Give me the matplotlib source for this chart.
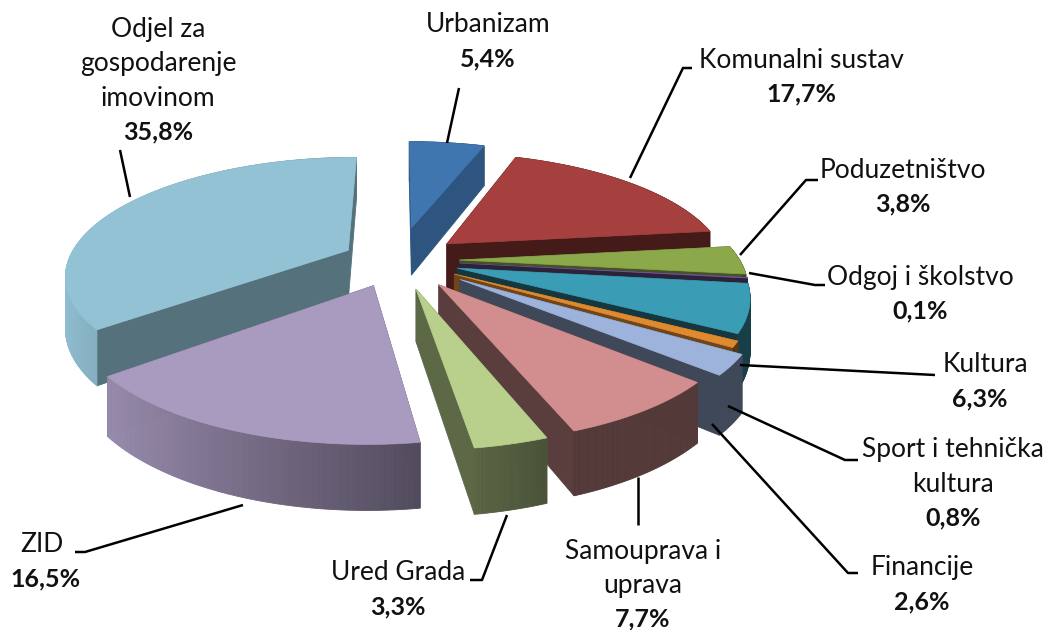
import numpy as np
import matplotlib
matplotlib.use("Agg")
import matplotlib.pyplot as plt
from matplotlib.patches import Polygon
from matplotlib.colors import to_rgb

categories = ["Urbanizam", "Komunalni sustav", "Poduzetništvo", "Odgoj i školstvo", "Kultura",
              "Sport i tehnička kultura", "Financije", "Samouprava i uprava", "Ured Grada", "ZID",
              "Odjel za gospodarenje imovinom"]
values = [5.4, 17.7, 3.8, 0.1, 6.3, 0.8, 2.6, 7.7, 3.3, 16.5, 35.8]
value_labels = ["5,4%", "17,7%", "3,8%", "0,1%", "6,3%", "0,8%", "2,6%", "7,7%", "3,3%", "16,5%", "35,8%"]

colors = ["#3F76B0", "#A5403E", "#8BA84A", "#6D5690", "#3B9DB5", "#E08A30", "#9DB3DC",
          "#D28E8E", "#B9D08D", "#A99BC0", "#93C2D5"]
explode = [.30, .23, .22, .22, .22, .23, .27, .25, .25, .23, .20]
cut_shade = [.72, .42, .5, .4, .35, .5, .4, .43, .5, .5, .58]
draw_order = [0, 10, 1, 2, 3, 4, 5, 6, 9, 7, 8]

CX, CY, RX, RY, K, H = 398, 260, 280, 115, .20, 50


def project(x, y, z=0.0):
    w = 1 + K * y
    return CX + RX * x / w, CY - RY * y / w + z * H / w


def shade(col, f):
    return tuple(min(1, c * f) for c in to_rgb(col))


fig = plt.figure(figsize=(10.47, 6.30), dpi=100)
ax = fig.add_axes([0, 0, 1, 1])
ax.set_xlim(0, 1047)
ax.set_ylim(630, 0)
ax.axis("off")

fractions = np.cumsum([0] + values) / np.sum(values)
start = 90 - 360 * fractions[:-1]
stop = 90 - 360 * fractions[1:]

for i in draw_order:
    a0, a1 = np.radians(start[i]), np.radians(stop[i])
    mid = (a0 + a1) / 2
    ox, oy = explode[i] * np.cos(mid), explode[i] * np.sin(mid)
    th = np.linspace(a0, a1, max(4, int(abs(a1 - a0) * 120)))
    xs, ys = ox + np.cos(th), oy + np.sin(th)
    faces = []
    for px, py in ((xs[0], ys[0]), (xs[-1], ys[-1])):
        q = [project(ox, oy), project(px, py), project(px, py, 1), project(ox, oy, 1)]
        faces.append(((oy + py) / 2, q, shade(colors[i], cut_shade[i])))
    for j in range(len(th) - 1):
        q = [project(xs[j], ys[j]), project(xs[j + 1], ys[j + 1]),
             project(xs[j + 1], ys[j + 1], 1), project(xs[j], ys[j], 1)]
        f = max(.4, .55 - .45 * np.cos((th[j] + th[j + 1]) / 2))
        faces.append(((ys[j] + ys[j + 1]) / 2, q, shade(colors[i], f)))
    for _, q, c in sorted(faces, key=lambda t: -t[0]):
        ax.add_patch(Polygon(q, closed=True, fc=c, ec=c, lw=.6))
    top = [project(ox, oy)] + [project(x, y) for x, y in zip(xs, ys)]
    ax.add_patch(Polygon(top, closed=True, fc=colors[i], ec=colors[i], lw=.5))

label_lines = [["Urbanizam"], ["Komunalni sustav"], ["Poduzetništvo"], ["Odgoj i školstvo"], ["Kultura"],
               ["Sport i tehnička", "kultura"], ["Financije"], ["Samouprava i", "uprava"], ["Ured Grada"],
               ["ZID"], ["Odjel za", "gospodarenje", "imovinom"]]
label_xy = [(488, 25), (801, 60), (903, 170), (920, 277), (985, 365), (953, 450), (922, 568),
            (643, 551), (398, 573), (42, 545), (158, 30)]
pct_x = [488, 801, 903, 920, 980, 953, 922, 643, 398, 45, 158]
line_gap = 34
leaders = [[(459, 88), (447, 143)],
           [(692, 68), (683, 68), (630, 178)],
           [(818, 180), (806, 180), (740, 255)],
           [(825, 285), (815, 285), (749, 273)],
           [(935, 375), (740, 365)],
           [(858, 460), (845, 460), (728, 406)],
           [(858, 573), (848, 573), (712, 424)],
           [(638, 525), (638, 477)],
           [(470, 580), (482, 580), (507, 515)],
           [(75, 552), (85, 552), (243, 505)],
           [(130, 197), (120, 150)]]

for i, lines in enumerate(label_lines):
    x, y = label_xy[i]
    for n, t in enumerate(lines):
        ax.text(x, y + n * line_gap, t, ha="center", va="center", fontsize=19, family="Lato", color="#111111")
    ax.text(pct_x[i], y + len(lines) * line_gap, value_labels[i], ha="center", va="center",
            fontsize=18, family="Lato", fontweight="bold", color="#111111")
    lx, ly = zip(*leaders[i])
    ax.plot(lx, ly, color="black", lw=1.8, solid_capstyle="butt")

fig.savefig("out.png", dpi=100)
